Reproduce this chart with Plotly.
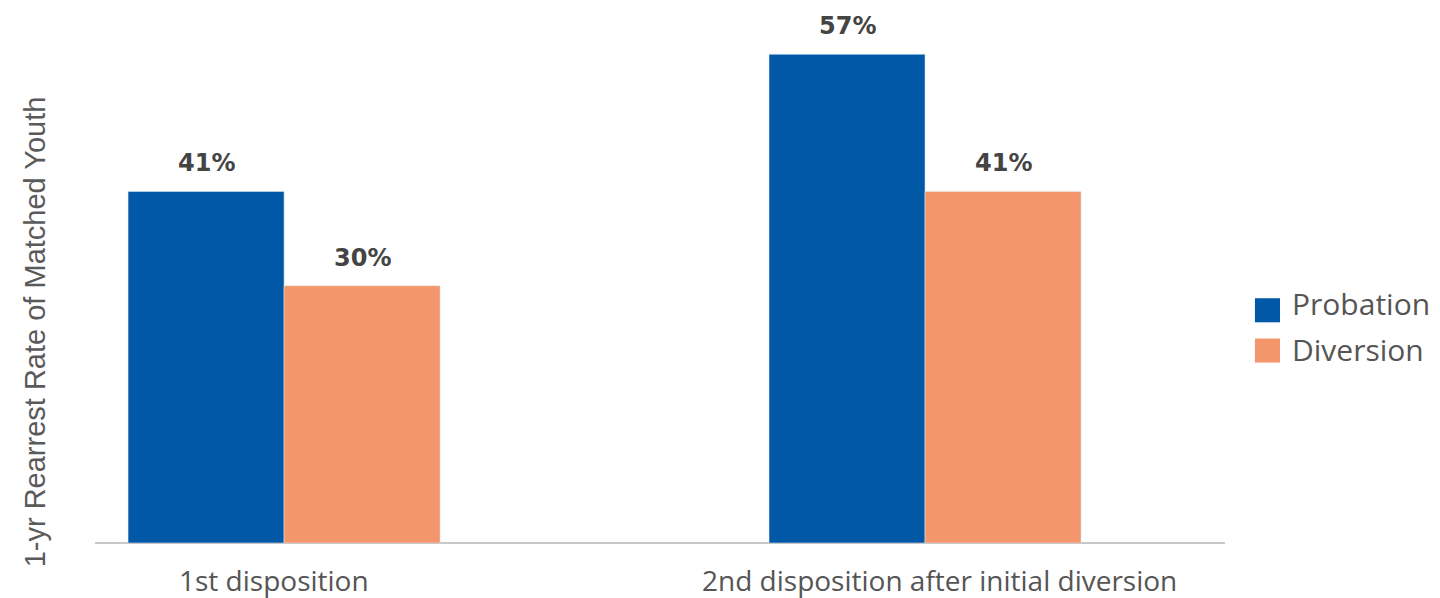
import plotly.graph_objects as go

# Rearrest rates by disposition stage
categories = ["1st disposition", "2nd disposition after initial diversion"]
probation = [41, 57]
diversion = [30, 41]
series_names = ["Probation", "Diversion"]

BLUE = "#0158A6"
ORANGE = "#F4966B"
LABEL_GRAY = "#444444"
TEXT_GRAY = "#555555"

pos = [0, 1]
bar_w = 0.2434

fig = go.Figure()
fig.add_trace(go.Bar(x=pos, y=probation, name=series_names[0], marker_color=BLUE,
                     width=bar_w, offset=-bar_w, showlegend=False))
fig.add_trace(go.Bar(x=pos, y=diversion, name=series_names[1], marker_color=ORANGE,
                     width=bar_w, offset=0, showlegend=False))

value_font = dict(family="DejaVu Sans", size=24, color=LABEL_GRAY, weight="bold")
annotations = []
# value labels above each bar
for p, v in zip(pos, probation):
    annotations.append(dict(x=p - bar_w / 2, y=v, xref="x", yref="y", text=f"{v}%",
                            showarrow=False, yanchor="middle", yshift=28, font=value_font))
for p, v in zip(pos, diversion):
    annotations.append(dict(x=p + bar_w / 2, y=v, xref="x", yref="y", text=f"{v}%",
                            showarrow=False, yanchor="middle", yshift=28, font=value_font))

# category labels under the axis
for p, c, dx in zip(pos, categories, [-10, 14]):
    annotations.append(dict(x=p, y=0, xref="x", yref="y", text=c, showarrow=False,
                            yanchor="middle", yshift=-37, xshift=dx,
                            font=dict(family="Open Sans", size=28, color=TEXT_GRAY)))

# y-axis title
annotations.append(dict(x=-0.053, y=0.403, xref="paper", yref="paper",
                        text="1-yr Rearrest Rate of Matched Youth", textangle=-90,
                        showarrow=False, xanchor="center", yanchor="middle",
                        font=dict(family="Liberation Sans", size=29, color="#5A5A5A")))

# legend entries: (label, colour, swatch centre, text centre) in paper units
shapes = []
legend_rows = [(series_names[0], BLUE, 0.445, 0.458), (series_names[1], ORANGE, 0.368, 0.370)]
for name, col, ys, yt in legend_rows:
    shapes.append(dict(type="rect", xref="paper", yref="paper",
                       x0=1.0265, x1=1.0487, y0=ys - 0.023, y1=ys + 0.023,
                       fillcolor=col, line=dict(width=0)))
    annotations.append(dict(x=1.0575, y=yt, xref="paper", yref="paper", text=name,
                            showarrow=False, xanchor="left", yanchor="middle",
                            font=dict(family="Open Sans", size=30, color=TEXT_GRAY)))

fig.update_layout(
    width=1440, height=598,
    margin=dict(l=95, r=215, t=20, b=55),
    plot_bgcolor="white", paper_bgcolor="white",
    barmode="group",
    xaxis=dict(range=[-0.295, 1.468], showticklabels=False, ticks="", showgrid=False,
               zeroline=False, showline=False),
    yaxis=dict(range=[0, 61], showticklabels=False, ticks="", showgrid=False,
               zeroline=True, zerolinecolor="#C8C8C8", zerolinewidth=1.5, showline=False),
    annotations=annotations,
    shapes=shapes,
)

fig.write_html("out.html")
